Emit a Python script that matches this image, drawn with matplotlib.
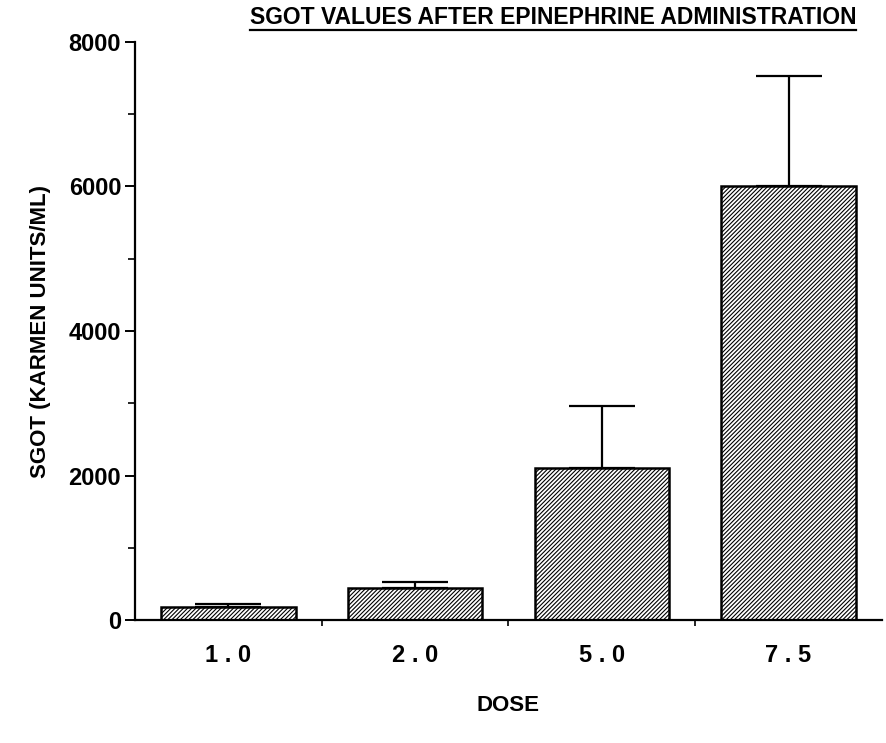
import numpy as np
import matplotlib
matplotlib.use("Agg")
import matplotlib.pyplot as plt
from matplotlib.lines import Line2D

# SGOT after epinephrine, mean and upper SE per dose
doses = ["1.0", "2.0", "5.0", "7.5"]
sgot_mean = [180, 450, 2100, 6000]
sgot_err = [40, 80, 860, 1530]
y_ticks = [0, 2000, 4000, 6000, 8000]

plt.rcParams['font.family'] = ['Liberation Sans', 'DejaVu Sans']
plt.rcParams['font.weight'] = 'bold'
plt.rcParams['hatch.linewidth'] = 0.8

fig = plt.figure(figsize=(8.86, 7.43), dpi=100)
ax = fig.add_axes([0.1524, 0.1655, 0.843, 0.778])

x = np.arange(len(doses))
ax.bar(x, sgot_mean, width=0.72, color='white', edgecolor='black',
       linewidth=1.8, hatch='////////', zorder=2)
ax.errorbar(x, sgot_mean, yerr=[np.zeros(len(x)), sgot_err], fmt='none',
            ecolor='black', elinewidth=1.6, capsize=24, capthick=1.6, zorder=1)

ax.set_xlim(-0.5, 3.5)
ax.set_ylim(0, 8000)
for side in ['top', 'right']:
    ax.spines[side].set_visible(False)
for side in ['left', 'bottom']:
    ax.spines[side].set_linewidth(1.6)

ax.set_yticks(y_ticks)
ax.set_yticks(np.arange(1000, 8000, 2000), minor=True)
ax.tick_params(axis='y', which='major', direction='out', length=7, width=1.4,
               labelsize=17, pad=3)
ax.tick_params(axis='y', which='minor', direction='out', length=5, width=1.2)

ax.set_xticks(x)
ax.set_xticklabels([" ".join(d) for d in doses])
ax.set_xticks([0.5, 1.5, 2.5], minor=True)
ax.tick_params(axis='x', which='major', length=0, labelsize=17, pad=17)
ax.tick_params(axis='x', which='minor', direction='out', length=4, width=1.2)

ax.set_ylabel("SGOT (KARMEN UNITS/ML)", fontsize=16, fontweight='bold')
ax.yaxis.set_label_coords(-0.112, 0.5)
ax.set_xlabel("DOSE", fontsize=16, fontweight='bold', va='center')
ax.xaxis.set_label_coords(0.5, -0.147)

# underlined title
title = fig.text(0.624, 0.977, "SGOT VALUES AFTER EPINEPHRINE ADMINISTRATION",
                 ha='center', va='center', fontsize=16.5, fontweight='bold')
fig.canvas.draw()
bb = title.get_window_extent().transformed(fig.transFigure.inverted())
fig.add_artist(Line2D([bb.x0, bb.x1], [bb.y0 - 0.002, bb.y0 - 0.002],
                      transform=fig.transFigure, color='black', linewidth=1.6))

fig.savefig("out.png", dpi=100)
